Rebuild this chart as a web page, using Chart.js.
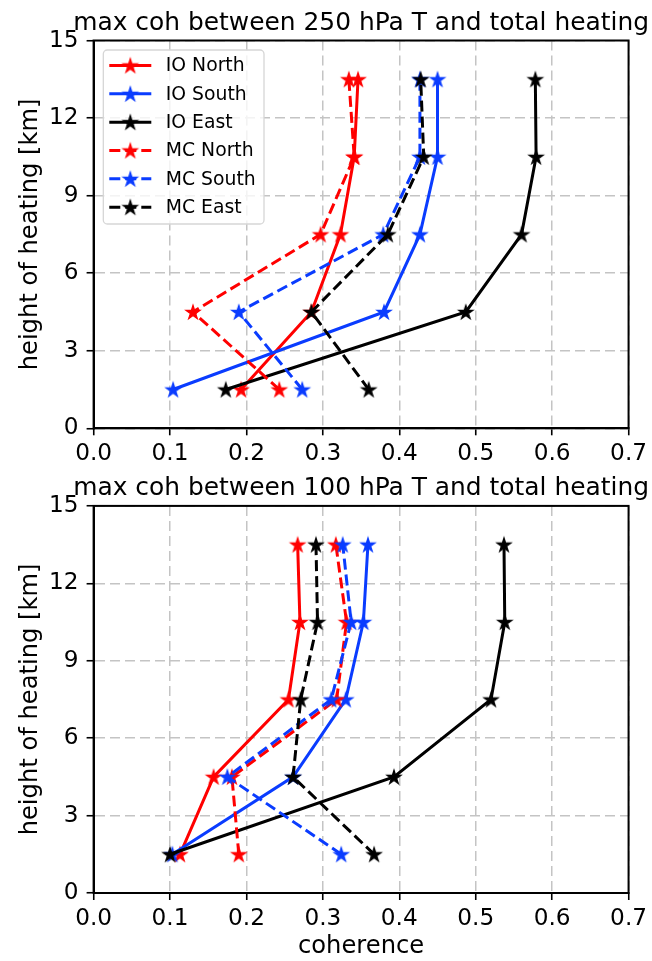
<!DOCTYPE html>
<html>
<head>
<meta charset="utf-8">
<script src="https://cdn.jsdelivr.net/npm/chart.js@4"></script>
<style>
  body { margin: 0; background: #fff; }
  #wrap { position: relative; width: 652px; height: 961px; }
  .box { position: absolute; left: 0; width: 652px; }
</style>
</head>
<body>
<div id="wrap">
  <div class="box" style="top:0;height:470px"><canvas id="c1"></canvas></div>
  <div class="box" style="top:470px;height:491px"><canvas id="c2"></canvas></div>
</div>
<script>
// heights of heating (km)
const heights = [1.5, 4.5, 7.5, 10.5, 13.5];
const seriesNames = ['IO North', 'IO South', 'IO East', 'MC North', 'MC South', 'MC East'];
const seriesColors = ['#ff0000', '#0a3cff', '#000000', '#ff0000', '#0a3cff', '#000000'];
const seriesDashed = [false, false, false, true, true, true];

// 250 hPa coherence
const ioNorth250 = [0.193, 0.285, 0.323, 0.341, 0.346];
const ioSouth250 = [0.104, 0.380, 0.427, 0.450, 0.450];
const ioEast250 = [0.173, 0.487, 0.560, 0.579, 0.578];
const mcNorth250 = [0.243, 0.130, 0.297, 0.341, 0.334];
const mcSouth250 = [0.273, 0.190, 0.379, 0.427, 0.427];
const mcEast250 = [0.360, 0.285, 0.385, 0.432, 0.428];

// 100 hPa coherence
const ioNorth100 = [0.113, 0.157, 0.255, 0.270, 0.267];
const ioSouth100 = [0.103, 0.261, 0.330, 0.353, 0.359];
const ioEast100 = [0.100, 0.393, 0.520, 0.538, 0.537];
const mcNorth100 = [0.190, 0.181, 0.318, 0.331, 0.317];
const mcSouth100 = [0.324, 0.175, 0.311, 0.337, 0.326];
const mcEast100 = [0.367, 0.261, 0.271, 0.293, 0.291];

const xTickVals = [0, 0.1, 0.2, 0.3, 0.4, 0.5, 0.6, 0.7];
const yTickVals = [0, 3, 6, 9, 12, 15];

const FONT = 'DejaVu Sans';
const TICK_SIZE = 23.2;
const LABEL_SIZE = 24.2;
const TITLE_SIZE = 24.9;
const LEGEND_SIZE = 18.8;

function makeStar(color) {
    const c = document.createElement('canvas');
    c.width = 20; c.height = 20;
    const g = c.getContext('2d');
    const R = 7.4, r = R * 0.382;
    g.beginPath();
    for (let i = 0; i < 10; i++) {
        const rad = i % 2 === 0 ? R : r;
        const a = -Math.PI / 2 + i * Math.PI / 5;
        const px = 10 + rad * Math.cos(a), py = 10.7 + rad * Math.sin(a);
        if (i === 0) g.moveTo(px, py); else g.lineTo(px, py);
    }
    g.closePath();
    g.fillStyle = color;
    g.fill();
    g.lineWidth = 1.2;
    g.strokeStyle = color;
    g.stroke();
    return c;
}

function buildDatasets(seriesList) {
    return seriesList.map((vals, i) => ({
        label: seriesNames[i],
        data: vals.map((v, k) => ({ x: v, y: heights[k] })),
        showLine: true,
        borderColor: seriesColors[i],
        backgroundColor: seriesColors[i],
        borderWidth: 3,
        borderDash: seriesDashed[i] ? [11, 5] : [],
        pointStyle: makeStar(seriesColors[i]),
        pointRadius: 8,
        pointHoverRadius: 8,
        order: seriesList.length - i
    }));
}

const framePlugin = {
    id: 'frame',
    afterDatasetsDraw(chart, args, opts) {
        const { ctx, chartArea: a } = chart;
        ctx.save();
        ctx.strokeStyle = '#000';
        ctx.lineWidth = 2;
        ctx.strokeRect(a.left, a.top, a.right - a.left, a.bottom - a.top);
        // subplot title
        ctx.fillStyle = '#000';
        ctx.font = TITLE_SIZE + 'px "' + FONT + '"';
        ctx.textAlign = 'center';
        ctx.textBaseline = 'alphabetic';
        ctx.fillText(opts.title, (a.left + a.right) / 2, a.top - 11);
        ctx.restore();
    }
};

const legendPlugin = {
    id: 'mplLegend',
    afterDraw(chart, args, opts) {
        if (!opts.show) return;
        const { ctx, chartArea: a } = chart;
        const x0 = a.left + 9.7, y0 = a.top + 9.5, w = 160.7, h = 174;
        ctx.save();
        ctx.beginPath();
        ctx.roundRect(x0, y0, w, h, 4);
        ctx.fillStyle = 'rgba(255,255,255,0.8)';
        ctx.fill();
        ctx.strokeStyle = '#d6d6d6';
        ctx.lineWidth = 1.3;
        ctx.stroke();
        chart.data.datasets.forEach((ds, i) => {
            const cy = y0 + 15.5 + i * 28.33;
            ctx.beginPath();
            ctx.setLineDash(ds.borderDash);
            ctx.strokeStyle = ds.borderColor;
            ctx.lineWidth = ds.borderWidth;
            ctx.moveTo(x0 + 6, cy);
            ctx.lineTo(x0 + 48, cy);
            ctx.stroke();
            ctx.setLineDash([]);
            const img = ds.pointStyle;
            ctx.drawImage(img, x0 + 27 - img.width / 2, cy - img.height / 2);
            ctx.fillStyle = '#000';
            ctx.font = LEGEND_SIZE + 'px "' + FONT + '"';
            ctx.textAlign = 'left';
            ctx.textBaseline = 'middle';
            ctx.fillText(ds.label, x0 + 62.5, cy + 1);
        });
        ctx.restore();
    }
};

function createPanel(canvasId, seriesList, cfg) {
    const ctx = document.getElementById(canvasId);
    return new Chart(ctx, {
        type: 'scatter',
        data: { datasets: buildDatasets(seriesList) },
        options: {
            responsive: true,
            maintainAspectRatio: false,
            animation: false,
            events: [],
            layout: { padding: { top: cfg.padTop, right: 20, left: 0, bottom: 0 } },
            scales: {
                x: {
                    type: 'linear',
                    min: 0,
                    max: 0.7,
                    afterBuildTicks: scale => { scale.ticks = xTickVals.map(v => ({ value: v })); },
                    afterFit: scale => { scale.height = cfg.xHeight; },
                    ticks: {
                        color: '#000',
                        font: { family: FONT, size: TICK_SIZE },
                        padding: 5,
                        maxRotation: 0,
                        callback: v => v.toFixed(1)
                    },
                    grid: { color: '#c4c4c4', lineWidth: 1.5, tickColor: '#000', tickLength: 7, tickWidth: 1.6 },
                    border: { color: '#000', width: 2, dash: [10, 5] },
                    title: {
                        display: cfg.xTitle !== '',
                        text: cfg.xTitle,
                        color: '#000',
                        font: { family: FONT, size: LABEL_SIZE },
                        padding: { top: 0, bottom: 0 }
                    }
                },
                y: {
                    type: 'linear',
                    min: 0,
                    max: 15,
                    afterBuildTicks: scale => { scale.ticks = yTickVals.map(v => ({ value: v })); },
                    afterFit: scale => { scale.width = 93.6; },
                    ticks: {
                        color: '#000',
                        font: { family: FONT, size: TICK_SIZE },
                        padding: 8,
                        callback: v => String(v)
                    },
                    grid: { color: '#c4c4c4', lineWidth: 1.5, tickColor: '#000', tickLength: 7, tickWidth: 1.6 },
                    border: { color: '#000', width: 2, dash: [10, 5] },
                    title: {
                        display: true,
                        text: 'height of heating [km]',
                        color: '#000',
                        font: { family: FONT, size: LABEL_SIZE },
                        padding: { top: 16, bottom: 0 }
                    }
                }
            },
            plugins: {
                legend: { display: false },
                tooltip: { enabled: false },
                frame: { title: cfg.title },
                mplLegend: { show: cfg.legend }
            }
        },
        plugins: [framePlugin, legendPlugin]
    });
}

createPanel('c1', [ioNorth250, ioSouth250, ioEast250, mcNorth250, mcSouth250, mcEast250], {
    title: 'max coh between 250 hPa T and total heating',
    padTop: 40.5,
    xHeight: 41.7,
    xTitle: '',
    legend: true
});

createPanel('c2', [ioNorth100, ioSouth100, ioEast100, mcNorth100, mcSouth100, mcEast100], {
    title: 'max coh between 100 hPa T and total heating',
    padTop: 35.9,
    xHeight: 68,
    xTitle: 'coherence',
    legend: false
});
</script>
</body>
</html>
